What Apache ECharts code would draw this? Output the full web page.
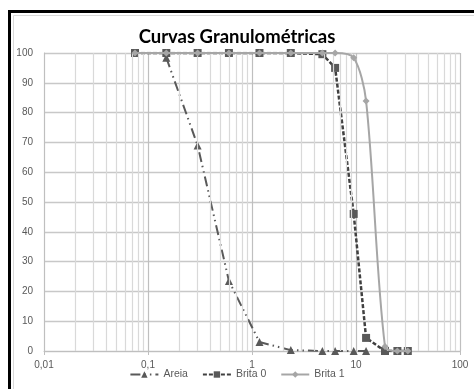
<!DOCTYPE html>
<html><head><meta charset="utf-8">
<script src="https://cdn.jsdelivr.net/npm/echarts@6/dist/echarts.min.js"></script>
<style>html,body{margin:0;padding:0;background:#fff}#c{width:474px;height:389px}</style>
</head><body><div id="c"></div>
<script>
// Sieve openings (mm)
const sieves = [0.075, 0.15, 0.3, 0.6, 1.18, 2.36, 4.75, 6.3, 9.5, 12.5, 19, 25, 31.5];
// % passing
const areia  = [null, 98.4, 69, 23.5, 3.0, 0.3, 0, 0, 0, 0, null, null, null];
const brita0 = [100, 100, 100, 100, 100, 100, 99.6, 95, 46, 4.4, 0, 0, 0];
const brita1 = [100, 100, 100, 100, 100, 100, 100, 100, 98.4, 83.9, 1.5, 0, 0];
const seriesNames = ['Areia', 'Brita 0', 'Brita 1'];
const yTicks = [0, 10, 20, 30, 40, 50, 60, 70, 80, 90, 100];
const decades = [0.01, 0.1, 1, 10];
const minorMultipliers = [2, 3, 4, 5, 6, 7, 8, 9];

const pairs = arr => sieves.map((s, i) => arr[i] == null ? null : [s, arr[i]]).filter(p => p);
const minorLines = [];
decades.forEach(d => minorMultipliers.forEach(m => minorLines.push({ xAxis: +(d * m).toPrecision(3) })));

const chart = echarts.init(document.getElementById('c'));
const font = 'Liberation Sans, Arial, sans-serif';
chart.setOption({
  animation: false,
  backgroundColor: '#fff',
  graphic: [
    { type: 'rect', shape: { x: 9.5, y: 11.5, width: 520, height: 420 }, style: { fill: 'none', stroke: '#000', lineWidth: 3 }, z: 100 },
    { type: 'rect', shape: { x: 13.5, y: 15.5, width: 520, height: 420 }, style: { fill: 'none', stroke: '#d9d9d9', lineWidth: 1 }, z: 100 }
  ],
  title: {
    text: 'Curvas Granulométricas', left: 'center', top: 23,
    textStyle: { fontFamily: 'Lato, sans-serif', fontWeight: 'bold', fontSize: 18.5, color: '#000' }
  },
  legend: {
    bottom: 4, left: 'center', itemWidth: 28, itemHeight: 8, itemGap: 14,
    data: seriesNames,
    textStyle: { fontFamily: font, fontSize: 10.5, color: '#595959' }
  },
  grid: { left: 44, right: 14, top: 53, bottom: 38 },
  xAxis: {
    type: 'log', logBase: 10, min: 0.01, max: 100,
    axisLine: { show: true, lineStyle: { color: '#bfbfbf' } },
    axisTick: { show: true, length: 4, lineStyle: { color: '#bfbfbf' } },
    axisLabel: { fontFamily: font, fontSize: 10, color: '#595959', margin: 9,
      formatter: v => String(+v.toPrecision(3)).replace('.', ',') },
    splitLine: { show: true, lineStyle: { color: '#bfbfbf', width: 1.2 } }
  },
  yAxis: {
    type: 'value', min: 0, max: 100, interval: 10,
    axisLine: { show: true, lineStyle: { color: '#bfbfbf' } },
    axisTick: { show: false },
    axisLabel: { fontFamily: font, fontSize: 10, color: '#595959', margin: 11 },
    splitLine: { show: true, lineStyle: { color: '#c8c8c8', width: 1.3 } }
  },
  series: [
    { name: 'minor', type: 'line', data: [], silent: true,
      markLine: { silent: true, symbol: 'none', label: { show: false },
        lineStyle: { color: '#d9d9d9', type: 'solid', width: 1.2 }, data: minorLines } },
    { name: 'Areia', type: 'line', data: pairs(areia), z: 3,
      symbol: 'triangle', symbolSize: 8, itemStyle: { color: '#595959' },
      lineStyle: { color: '#595959', width: 2, type: [10, 4, 1.5, 4, 1.5, 4] } },
    { name: 'Brita 0', type: 'line', data: pairs(brita0), z: 4,
      symbol: 'rect', symbolSize: 8, itemStyle: { color: '#595959' },
      lineStyle: { color: '#404040', width: 2.5, type: [4, 2] } },
    { name: 'Brita 1', type: 'line', data: pairs(brita1), z: 5, smooth: 0.3,
      symbol: 'diamond', symbolSize: 7, itemStyle: { color: '#a6a6a6' },
      lineStyle: { color: '#a6a6a6', width: 2 } }
  ]
});
</script></body></html>
